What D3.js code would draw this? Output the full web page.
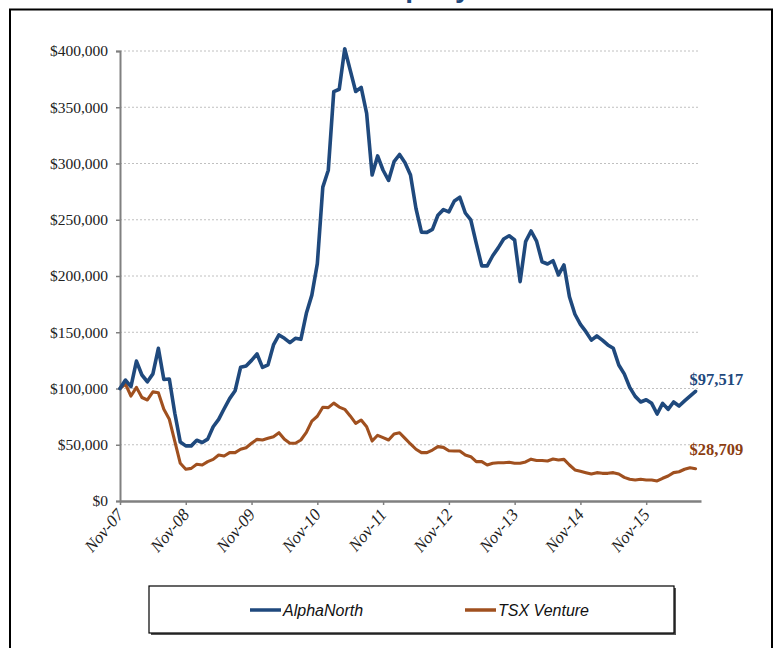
<!DOCTYPE html>
<html><head><meta charset="utf-8">
<script src="https://cdn.jsdelivr.net/npm/d3@7/dist/d3.min.js"></script>
<style>body{margin:0;background:#fff;}svg{display:block;}</style>
</head><body>
<svg id="chart" width="774" height="648"></svg>
<script>
const seriesNames = ["AlphaNorth", "TSX Venture"];
const tickLabels = ["Nov-07","Nov-08","Nov-09","Nov-10","Nov-11","Nov-12","Nov-13","Nov-14","Nov-15"];
const yTicks = [0,50000,100000,150000,200000,250000,300000,350000,400000];
// monthly values, Nov-07 .. Aug-16
const alphaNorth = [100000,107500,101600,124400,112000,106000,113000,135700,108000,108400,
 78000,52400,49000,49000,54000,52000,55000,66000,72600,82000,
 91000,98000,118800,120000,125000,130700,118800,121000,138700,147600,
 144600,140700,144600,143700,166800,183000,211000,279000,294000,363800,
 366000,402000,383000,364000,367700,344600,289800,306700,294000,285000,
 301600,308000,300700,289800,260000,239000,238800,241500,254000,259000,
 257000,266700,270000,256000,249800,229000,209000,209000,218000,225000,
 232900,235800,232000,195000,230500,240000,231000,212700,210700,213600,
 200900,209800,181600,166000,157000,150500,143000,146700,143000,138700,
 135700,120900,113000,101000,93000,88000,90000,86800,77300,86800,
 81500,88000,84400,89000,93300,97517];
const tsxVenture = [100000,104000,93300,101000,92000,89800,97000,96300,81500,72600,
 53000,33500,28200,29000,32600,32000,35000,37000,40900,40000,
 43000,43000,46000,47400,51300,54800,54200,55700,57200,60700,
 54800,51300,51300,54200,61000,71000,75300,83300,83000,87000,
 83500,81500,75600,69000,72000,66000,53300,58400,56300,54200,
 59600,60700,55700,50700,46000,43000,43000,45300,48300,47700,
 44700,44400,44400,40900,39400,35000,35000,32000,33500,34000,
 34000,34400,33500,33500,34700,37200,36000,36000,35600,37300,
 36400,37000,32000,27600,26500,25200,24000,25200,24600,24600,
 25200,24000,21000,19300,18700,19300,18700,18700,17800,20200,
 22200,25200,26000,28200,29600,28709];
const endLabels = ["$97,517", "$28,709"];
const colors = ["#1F497D", "#A0501F"];
const labelColors = ["#1F497D", "#8B3E12"];

const svg = d3.select("#chart");
// outer frame
svg.append("rect").attr("x",10).attr("y",9.5).attr("width",762).attr("height",700)
  .attr("fill","none").attr("stroke","#000").attr("stroke-width",2);
// title (mostly cut off at top of the picture)
svg.append("text").attr("x",343).attr("y",-3).attr("font-family","Liberation Sans, Arial, sans-serif")
  .attr("font-weight","bold").attr("font-size",28).attr("fill","#1F497D").text("Company");

const x = d3.scaleLinear().domain([0,106]).range([120,701]);
const y = d3.scaleLinear().domain([0,400000]).range([501,51]);

// gridlines
svg.append("g").selectAll("line").data(yTicks.filter(d=>d>0)).join("line")
  .attr("x1",120).attr("x2",698).attr("y1",d=>y(d)).attr("y2",d=>y(d))
  .attr("stroke","#c0c0c0").attr("stroke-width",1).attr("stroke-dasharray","2,2");

// y axis
const yAxis = d3.axisLeft(y).tickValues(yTicks).tickSize(4).tickPadding(8)
  .tickFormat(d => "$" + d3.format(",")(d));
const gy = svg.append("g").attr("transform","translate(120,0)").call(yAxis);
gy.select(".domain").attr("stroke","#808080").attr("stroke-width",2);
gy.selectAll(".tick line").attr("stroke","#808080").attr("stroke-width",1.5);
gy.selectAll(".tick text").attr("font-family","Liberation Serif, 'Times New Roman', serif")
  .attr("font-size",15.5).attr("fill","#222");

// x axis
const xAxis = d3.axisBottom(x).tickValues(d3.range(0,97,12)).tickSize(4).tickSizeOuter(0)
  .tickFormat((d,i) => tickLabels[i]);
const gx = svg.append("g").attr("transform","translate(0,501)").call(xAxis);
gx.select(".domain").attr("stroke","#808080").attr("stroke-width",2.5);
gx.selectAll(".tick line").attr("stroke","#808080").attr("stroke-width",1.5);
gx.selectAll(".tick text").attr("font-family","Liberation Serif, 'Times New Roman', serif")
  .attr("font-style","italic").attr("font-size",17).attr("fill","#222")
  .attr("text-anchor","end").attr("dy",0).attr("y",0)
  .attr("transform","translate(4,14) rotate(-50)");

// lines
const line = d3.line().x((d,i)=>x(i)).y(d=>y(d)).curve(d3.curveLinear);
[tsxVenture, alphaNorth].forEach((s,k) => {
  const idx = k===0 ? 1 : 0;
  svg.append("path").datum(s).attr("d",line).attr("fill","none")
    .attr("stroke",colors[idx]).attr("stroke-width", idx===0 ? 3.6 : 3.1)
    .attr("stroke-linejoin","round").attr("stroke-linecap","round");
});

// end labels
[alphaNorth, tsxVenture].forEach((s,k) => {
  const last = s.length-1;
  svg.append("text").attr("x", x(last)-6).attr("y", y(s[last]) - (k===0?6:14))
    .attr("font-family","Liberation Serif, 'Times New Roman', serif").attr("font-weight","bold")
    .attr("font-size",16.5).attr("fill",labelColors[k]).text(endLabels[k]);
});

// legend
svg.append("rect").attr("x",151).attr("y",588).attr("width",525).attr("height",47).attr("fill","#555");
svg.append("rect").attr("x",149).attr("y",586).attr("width",525).attr("height",47)
  .attr("fill","#fff").attr("stroke","#000").attr("stroke-width",1.2);
const legX = [250, 465];
seriesNames.forEach((n,i) => {
  svg.append("line").attr("x1",legX[i]).attr("x2",legX[i]+31).attr("y1",610).attr("y2",610)
    .attr("stroke",colors[i]).attr("stroke-width",3.5);
  svg.append("text").attr("x",legX[i]+33).attr("y",616)
    .attr("font-family","Liberation Sans, Arial, sans-serif")
    .attr("font-style","italic").attr("font-size",16).attr("fill","#111").text(n);
});
</script>
</body></html>
